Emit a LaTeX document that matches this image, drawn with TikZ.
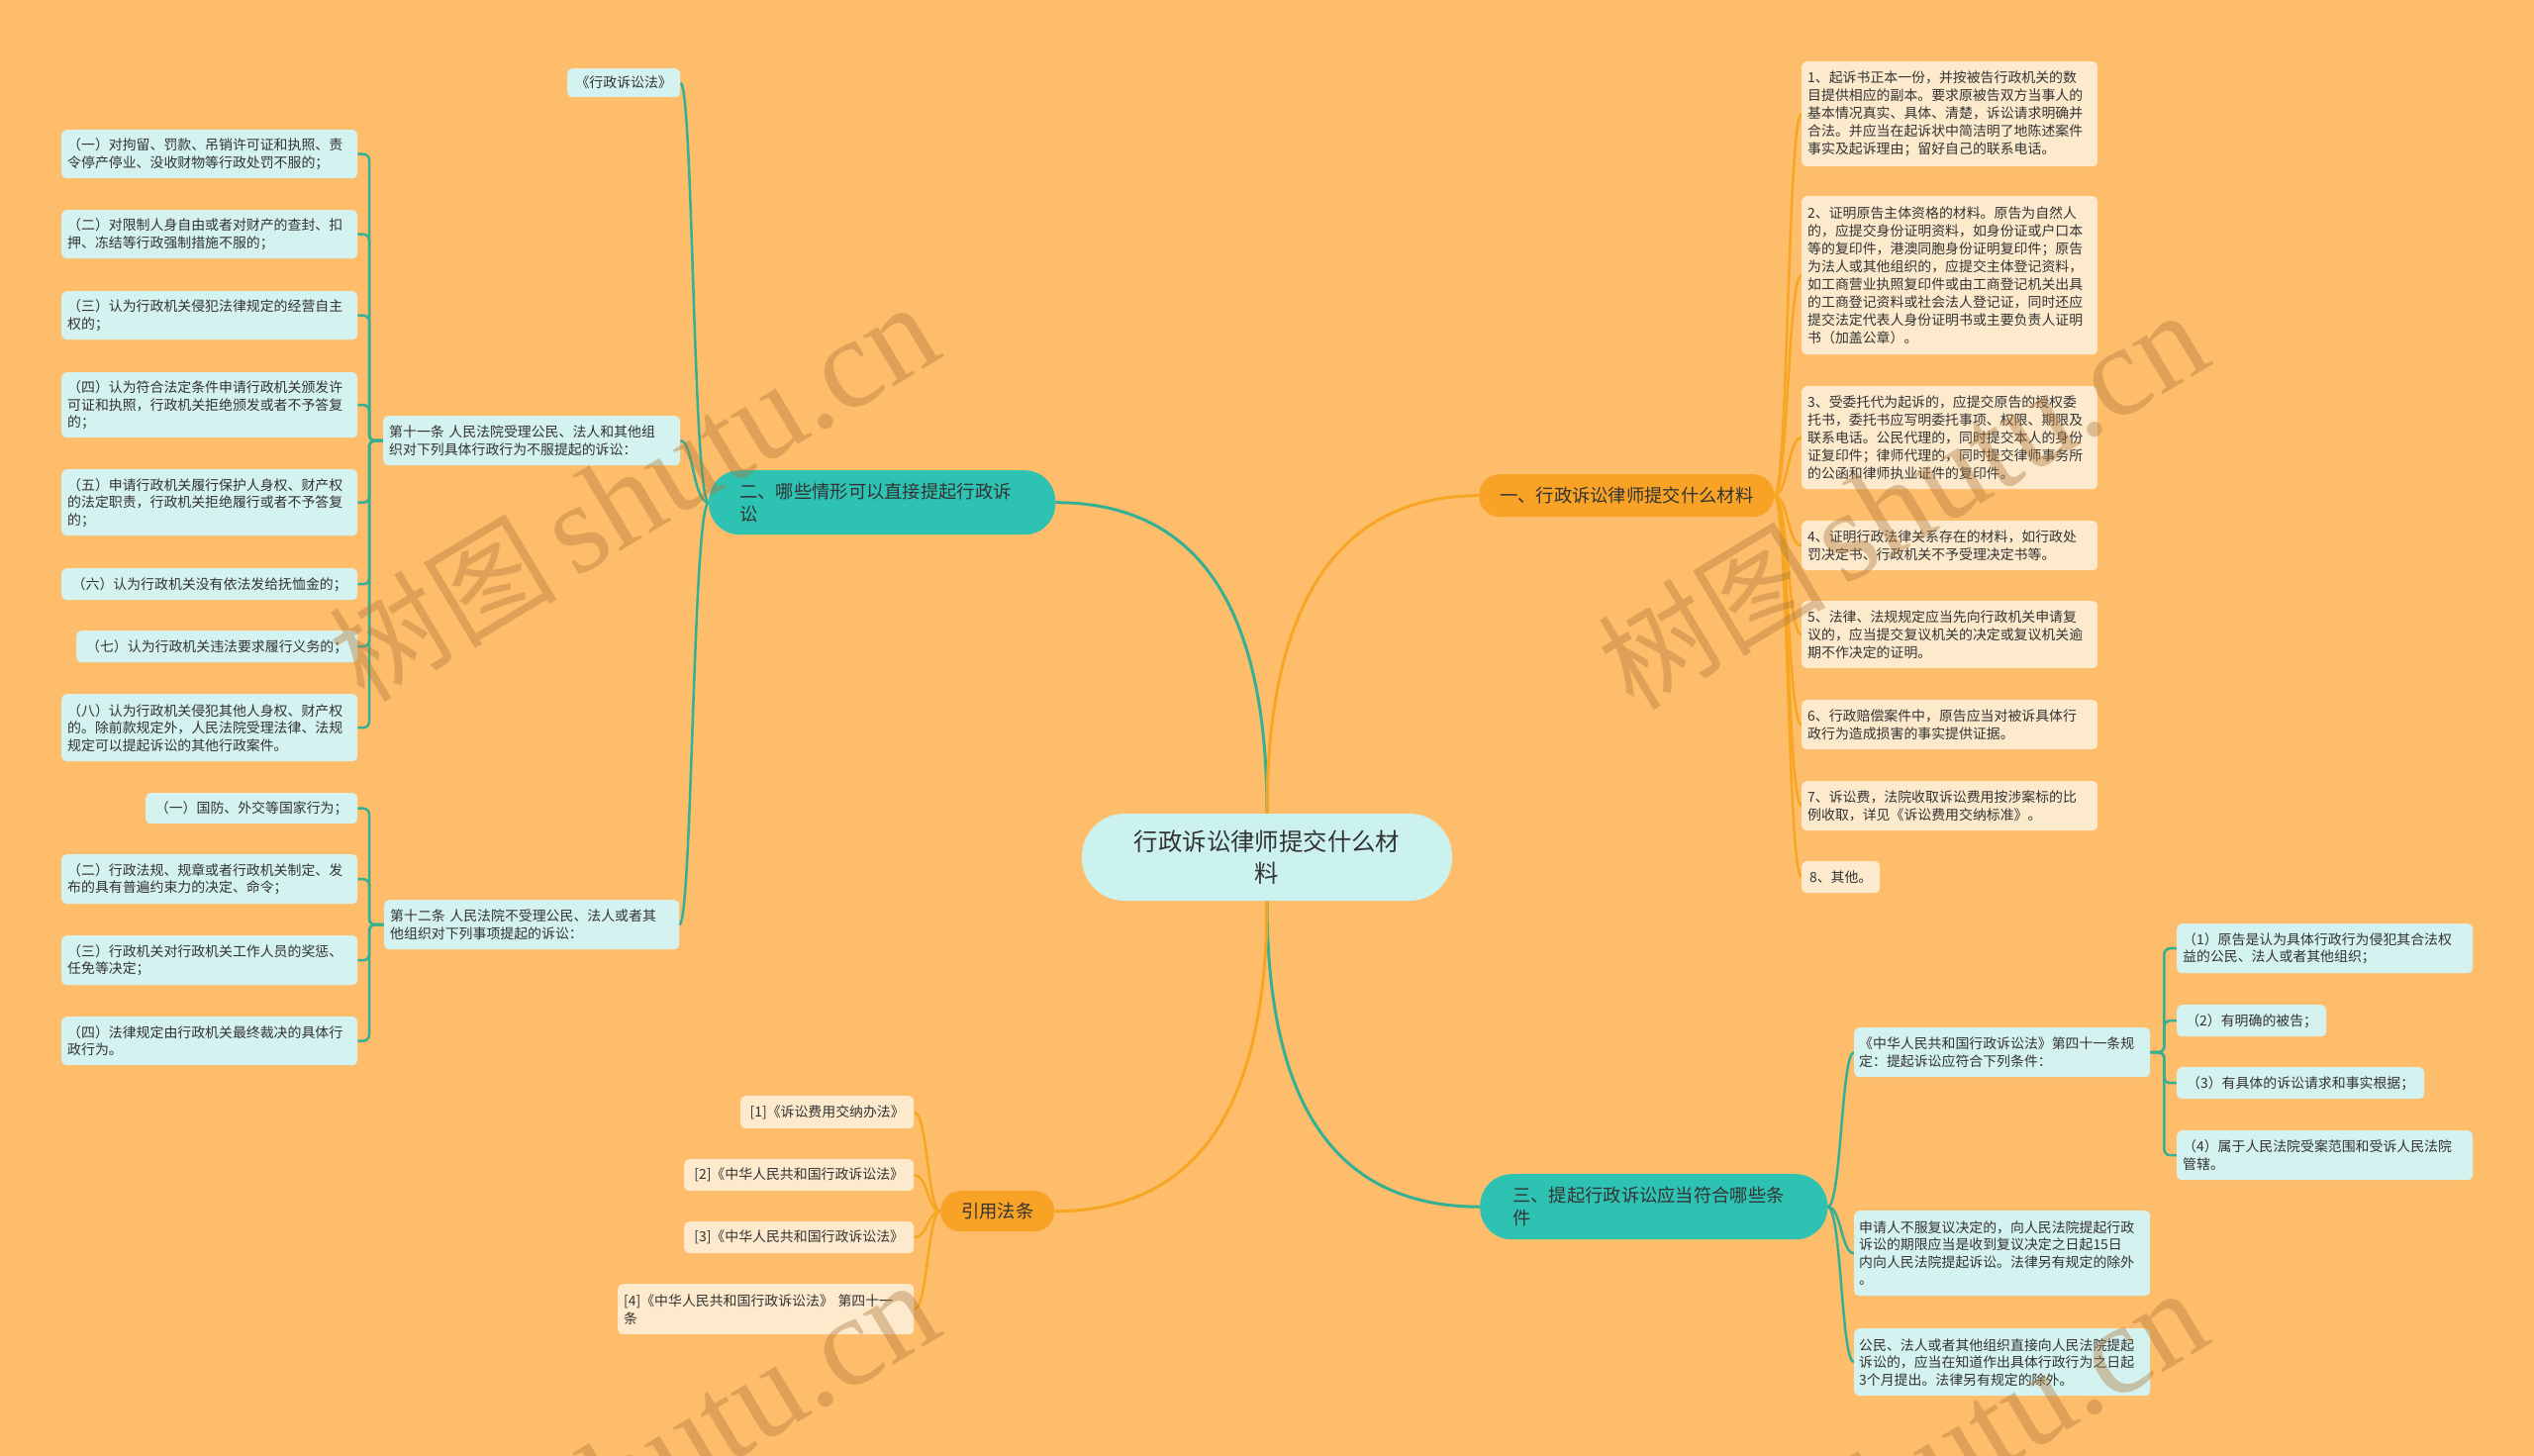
\documentclass[tikz,border=0pt]{standalone}
\usepackage{fontspec}
\setmainfont{Noto Sans CJK SC}
\newfontfamily\wmlatin{Liberation Serif}
\definecolor{bgc}{RGB}{254,189,106}
\definecolor{txt}{RGB}{51,51,51}
\definecolor{tealmain}{RGB}{46,194,178}
\definecolor{tealline}{RGB}{52,176,148}
\definecolor{tealleaf}{RGB}{212,242,239}
\definecolor{cfill}{RGB}{204,242,240}
\definecolor{ormain}{RGB}{248,163,38}
\definecolor{orline}{RGB}{246,166,35}
\definecolor{orleaf}{RGB}{253,234,205}
\definecolor{wm}{RGB}{175,120,60}
\newcommand\lf{\fontsize{13.9}{17.5}\selectfont}
\newcommand\rf{\fontsize{13.9}{18}\selectfont}
\newcommand\mf{\fontsize{18.3}{23}\selectfont}
\newcommand\cf{\fontsize{24.4}{32}\selectfont}
\newcommand\bx[7]{\node[#1,minimum width=#5pt,minimum height=#6pt,text width=#7pt] (#2) at (#3,#4)}
\pgfdeclarelayer{back}
\pgfdeclarelayer{lines}
\pgfsetlayers{back,lines,main}
\tikzset{
  boxbase/.style={anchor=north west, inner xsep=6pt, inner ysep=0pt, text=txt, rounded corners=5pt},
  tleaf/.style={boxbase, fill=tealleaf, font=\lf},
  oleaf/.style={boxbase, fill=orleaf, font=\rf},
  mainbox/.style={anchor=north west, inner ysep=0pt, text=txt, font=\mf},
  mainT/.style={draw=tealline, line width=3pt},
  mainO/.style={draw=orline, line width=3pt},
  tl2/.style={draw=tealline, line width=2.5pt},
  ol2/.style={draw=orline, line width=2.5pt},
  tl3/.style={draw=tealline, line width=2.5pt, rounded corners=6pt},
  wmark/.style={rotate=31, text=wm, text opacity=0.4, inner sep=0pt}
}
\begin{document}
\begin{tikzpicture}[x=1pt,y=-1pt]
\useasboundingbox (0,0) rectangle (2560,1471);
\clip (0,0) rectangle (2560,1471);
\begin{pgfonlayer}{back}
\fill[bgc] (0,0) rectangle (2560,1471);
\end{pgfonlayer}

% center
\node[fill=cfill, rounded corners=43pt, minimum width=374pt, minimum height=88pt, text width=340pt, align=center, font=\cf, text=txt, inner sep=0pt] (c) at (1280,866) {行政诉讼律师提交什么材\\料};

% main branches
\node[mainbox, fill=tealmain, rounded corners=31pt, minimum width=350pt, minimum height=65pt, text width=288pt, inner xsep=31pt, align=left] (b2) at (716,475) {二、哪些情形可以直接提起行政诉\\讼};
\node[mainbox, fill=ormain, rounded corners=21pt, minimum width=298pt, minimum height=43pt, text width=280pt, inner xsep=9pt, align=center] (b1) at (1494,479) {一、行政诉讼律师提交什么材料};
\node[mainbox, fill=tealmain, rounded corners=32pt, minimum width=351pt, minimum height=66pt, text width=285pt, inner xsep=33pt, align=left] (b3) at (1495,1186) {三、提起行政诉讼应当符合哪些条\\件};
\node[mainbox, fill=ormain, rounded corners=20pt, minimum width=115pt, minimum height=41pt, text width=100pt, inner xsep=7pt, align=center] (b4) at (950,1203) {引用法条};

% branch 二
\bx{tleaf,align=center}{law}{573}{69}{114}{29}{102}{《行政诉讼法》};
\bx{tleaf,align=left}{n11}{387}{420}{300}{50}{288}{第十一条 人民法院受理公民、法人和其他组\\织对下列具体行政行为不服提起的诉讼：};
\bx{tleaf,align=left}{n12}{388}{909}{298}{50}{286}{第十二条 人民法院不受理公民、法人或者其\\他组织对下列事项提起的诉讼：};

\bx{tleaf,align=left}{l1}{62}{131}{299}{49}{287}{（一）对拘留、罚款、吊销许可证和执照、责\\令停产停业、没收财物等行政处罚不服的；};
\bx{tleaf,align=left}{l2}{62}{212}{299}{49}{287}{（二）对限制人身自由或者对财产的查封、扣\\押、冻结等行政强制措施不服的；};
\bx{tleaf,align=left}{l3}{62}{294}{299}{49}{287}{（三）认为行政机关侵犯法律规定的经营自主\\权的；};
\bx{tleaf,align=left}{l4}{62}{376}{299}{66}{287}{（四）认为符合法定条件申请行政机关颁发许\\可证和执照，行政机关拒绝颁发或者不予答复\\的；};
\bx{tleaf,align=left}{l5}{62}{474}{299}{67}{287}{（五）申请行政机关履行保护人身权、财产权\\的法定职责，行政机关拒绝履行或者不予答复\\的；};
\bx{tleaf,align=center}{l6}{62}{574}{299}{32}{287}{（六）认为行政机关没有依法发给抚恤金的；};
\bx{tleaf,align=center}{l7}{77}{637}{284}{32}{272}{（七）认为行政机关违法要求履行义务的；};
\bx{tleaf,align=left}{l8}{62}{701}{299}{68}{287}{（八）认为行政机关侵犯其他人身权、财产权\\的。除前款规定外，人民法院受理法律、法规\\规定可以提起诉讼的其他行政案件。};

\bx{tleaf,align=center}{t1}{147}{801}{214}{31}{202}{（一）国防、外交等国家行为；};
\bx{tleaf,align=left}{t2}{62}{863}{299}{50}{287}{（二）行政法规、规章或者行政机关制定、发\\布的具有普遍约束力的决定、命令；};
\bx{tleaf,align=left}{t3}{62}{945}{299}{50}{287}{（三）行政机关对行政机关工作人员的奖惩、\\任免等决定；};
\bx{tleaf,align=left}{t4}{62}{1027}{299}{49}{287}{（四）法律规定由行政机关最终裁决的具体行\\政行为。};

% branch 一
\bx{oleaf,align=left}{r1}{1820}{62}{299}{106}{287}{1、起诉书正本一份，并按被告行政机关的数\\目提供相应的副本。要求原被告双方当事人的\\基本情况真实、具体、清楚，诉讼请求明确并\\合法。并应当在起诉状中简洁明了地陈述案件\\事实及起诉理由；留好自己的联系电话。};
\bx{oleaf,align=left}{r2}{1820}{198}{299}{160}{287}{2、证明原告主体资格的材料。原告为自然人\\的，应提交身份证明资料，如身份证或户口本\\等的复印件，港澳同胞身份证明复印件；原告\\为法人或其他组织的，应提交主体登记资料，\\如工商营业执照复印件或由工商登记机关出具\\的工商登记资料或社会法人登记证，同时还应\\提交法定代表人身份证明书或主要负责人证明\\书（加盖公章）。};
\bx{oleaf,align=left}{r3}{1820}{390}{299}{104}{287}{3、受委托代为起诉的，应提交原告的授权委\\托书，委托书应写明委托事项、权限、期限及\\联系电话。公民代理的，同时提交本人的身份\\证复印件；律师代理的，同时提交律师事务所\\的公函和律师执业证件的复印件。};
\bx{oleaf,align=left}{r4}{1820}{526}{299}{50}{287}{4、证明行政法律关系存在的材料，如行政处\\罚决定书、行政机关不予受理决定书等。};
\bx{oleaf,align=left}{r5}{1820}{607}{299}{68}{287}{5、法律、法规规定应当先向行政机关申请复\\议的，应当提交复议机关的决定或复议机关逾\\期不作决定的证明。};
\bx{oleaf,align=left}{r6}{1820}{707}{299}{50}{287}{6、行政赔偿案件中，原告应当对被诉具体行\\政行为造成损害的事实提供证据。};
\bx{oleaf,align=left}{r7}{1820}{789}{299}{50}{287}{7、诉讼费，法院收取诉讼费用按涉案标的比\\例收取，详见《诉讼费用交纳标准》。};
\bx{oleaf,align=center}{r8}{1820}{870}{79}{32}{67}{8、其他。};

% branch 三
\bx{tleaf,align=left,inner xsep=5pt}{q1}{1873}{1038}{299}{50}{289}{《中华人民共和国行政诉讼法》第四十一条规\\定：提起诉讼应符合下列条件：};
\bx{tleaf,align=left,inner xsep=5pt}{q2}{1873}{1223}{299}{86}{289}{申请人不服复议决定的，向人民法院提起行政\\诉讼的期限应当是收到复议决定之日起15日\\内向人民法院提起诉讼。法律另有规定的除外\\。};
\bx{tleaf,align=left,inner xsep=5pt}{q3}{1873}{1342}{299}{68}{289}{公民、法人或者其他组织直接向人民法院提起\\诉讼的，应当在知道作出具体行政行为之日起\\3个月提出。法律另有规定的除外。};

\bx{tleaf,align=left}{p1}{2199}{933}{299}{50}{287}{（1）原告是认为具体行政行为侵犯其合法权\\益的公民、法人或者其他组织；};
\bx{tleaf,align=center}{p2}{2199}{1015}{151}{32}{139}{（2）有明确的被告；};
\bx{tleaf,align=center}{p3}{2199}{1078}{250}{32}{238}{（3）有具体的诉讼请求和事实根据；};
\bx{tleaf,align=left}{p4}{2199}{1142}{299}{50}{287}{（4）属于人民法院受案范围和受诉人民法院\\管辖。};

% branch 引用法条
\bx{oleaf,align=center}{c1}{748}{1107}{175}{33}{163}{[1]《诉讼费用交纳办法》};
\bx{oleaf,align=center}{c2}{691}{1171}{232}{32}{220}{[2]《中华人民共和国行政诉讼法》};
\bx{oleaf,align=center}{c3}{691}{1234}{232}{32}{220}{[3]《中华人民共和国行政诉讼法》};
\bx{oleaf,align=left}{c4}{624}{1297}{299}{51}{287}{[4]《中华人民共和国行政诉讼法》 第四十一\\条};

\begin{pgfonlayer}{lines}
% main connectors
\draw[mainT] (c.north) .. controls ([yshift=200pt]c.north) and ([xshift=150pt]b2.east) .. (b2.east);
\draw[mainO] (c.north) .. controls ([yshift=200pt]c.north) and ([xshift=-150pt]b1.west) .. (b1.west);
\draw[mainT] (c.south) .. controls ([yshift=-200pt]c.south) and ([xshift=-150pt]b3.west) .. (b3.west);
\draw[mainO] (c.south) .. controls ([yshift=-200pt]c.south) and ([xshift=150pt]b4.east) .. (b4.east);
% level 2
\foreach \t in {law,n11,n12}
  \draw[tl2] (b2.west) .. controls ([xshift=-16pt]b2.west) and ([xshift=13pt]\t.east) .. (\t.east);
\foreach \t in {r1,r2,r3,r4,r5,r6,r7,r8}
  \draw[ol2] (b1.east) .. controls ([xshift=14pt]b1.east) and ([xshift=-14pt]\t.west) .. (\t.west);
\foreach \t in {q1,q2,q3}
  \draw[tl2] (b3.east) .. controls ([xshift=14pt]b3.east) and ([xshift=-13pt]\t.west) .. (\t.west);
\foreach \t in {c1,c2,c3,c4}
  \draw[ol2] (b4.west) .. controls ([xshift=-13pt]b4.west) and ([xshift=14pt]\t.east) .. (\t.east);
% level 3
\foreach \t in {l1,l2,l3,l4,l5,l6,l7,l8}
  \draw[tl3] (n11.west) -- ++(-14pt,0) |- (\t.east);
\foreach \t in {t1,t2,t3,t4}
  \draw[tl3] (n12.west) -- ++(-15pt,0) |- (\t.east);
\foreach \t in {p1,p2,p3,p4}
  \draw[tl3] (q1.east) -- ++(14pt,0) |- (\t.west);
\end{pgfonlayer}

% watermarks
\foreach \wx/\wy/\wn in {640/498/wa,1922/506/wb,640/1486/wc,1922/1494/wd}
  \node[wmark] (\wn) at (\wx,\wy) {{\fontsize{115}{120}\selectfont 树图}\hspace{18pt}{\wmlatin\fontsize{130}{135}\selectfont shutu.cn}};
\end{tikzpicture}
\end{document}
